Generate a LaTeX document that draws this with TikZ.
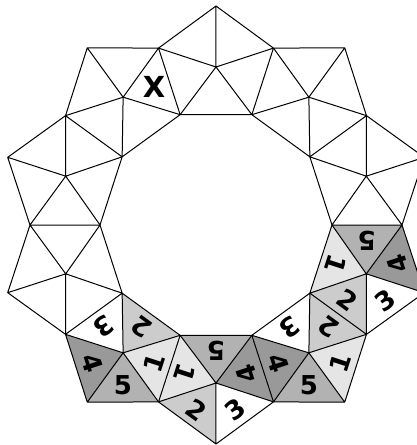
\documentclass[tikz,border=0pt]{standalone}
\usepackage{fontspec}
\setmainfont{DejaVu Sans}
\usetikzlibrary{calc}
\definecolor{faceA}{gray}{0.90}
\definecolor{faceB}{gray}{0.80}
\definecolor{faceC}{gray}{0.70}
\definecolor{faceD}{gray}{0.60}

\begin{document}
\begin{tikzpicture}[x=1pt,y=1pt,
    edge/.style={draw=black,line width=1pt,line join=round},
    num/.style={font=\bfseries\fontsize{26}{26}\selectfont,inner sep=0pt},
    cross/.style={font=\bfseries\fontsize{29}{29}\selectfont,inner sep=0pt}]
  \useasboundingbox (-216,-220) rectangle (201,225);
  % corners: inner ring I, middle M, third T, outer tips O
  \foreach \k in {0,...,9}{
    \coordinate (I\k) at ({36*\k}:116);
    \coordinate (T\k) at ({36*\k}:186);
    \coordinate (M\k) at ({36*\k+18}:158);
    \coordinate (O\k) at ({36*\k+18}:219);
  }
  % shaded faces
  \foreach \a/\b/\c/\col in {I6/I7/M6/faceB, I7/T7/M6/faceA, T7/O6/M6/faceC, T6/O6/M6/faceD,
      I7/I8/M7/faceC, I7/T7/M7/faceA, I8/T8/M7/faceD, T7/O7/M7/faceB,
      I8/T8/M8/faceD, I9/T9/M8/faceB, T8/O8/M8/faceC, T9/O8/M8/faceA,
      I9/I0/M9/faceA, I0/T0/M9/faceC, I9/T9/M9/faceB, T0/O9/M9/faceD}
    \fill[\col] (\a)--(\b)--(\c)--cycle;
  % all edges, sector by sector
  \foreach \k [evaluate=\k as \n using {int(mod(\k+1,10))}] in {0,...,9}
    \draw[edge] (I\k)--(I\n)--(M\k)--cycle (T\k)--(M\k)--(T\n)
      (T\k)--(O\k)--(T\n) (M\k)--(O\k) (I\k)--(T\k);
  % numbers, upright towards the apex M
  \foreach \a/\b/\c/\r/\t in {I6/I7/M6/144/2, I7/T7/M6/72/1, I6/T6/M6/216/3, T7/O6/M6/0/5, T6/O6/M6/288/4,
      I7/I8/M7/180/5, I7/T7/M7/252/1, I8/T8/M7/108/4, T7/O7/M7/324/2, T8/O7/M7/36/3,
      I8/I9/M8/216/3, I8/T8/M8/288/4, I9/T9/M8/144/2, T8/O8/M8/0/5, T9/O8/M8/72/1,
      I9/I0/M9/252/1, I0/T0/M9/180/5, I9/T9/M9/324/2, T9/O9/M9/36/3, T0/O9/M9/108/4}
    \node[num,rotate=\r] (n-\a-\b-\c) at ($(\a)!0.5!(\b)!1/3!(\c)$) {\t};
  \node[cross] (x) at ($(I3)!0.5!(T3)!1/3!(M3)$) {X};
\end{tikzpicture}
\end{document}
